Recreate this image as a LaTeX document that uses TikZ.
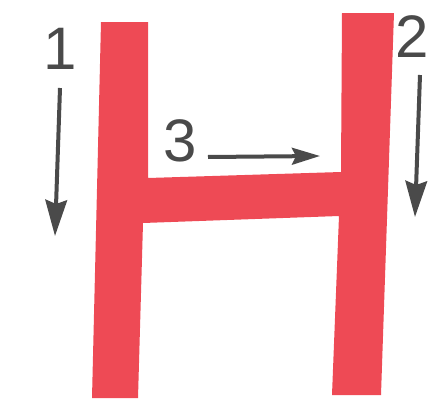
\documentclass[tikz,border=0pt]{standalone}
\usepackage{fontspec}
\setmainfont{Liberation Sans}
\usepackage{tikz}
\usetikzlibrary{arrows.meta, positioning}
\definecolor{hred}{HTML}{EE4A55}
\definecolor{hgray}{HTML}{4A4A4A}

\begin{document}
\begin{tikzpicture}[x=1pt, y=-1pt,
    num/.style={text=hgray, font=\fontsize{60}{60}\selectfont, inner sep=0pt},
    stroke/.style={-{Stealth[length=#1, width=0.6*#1, inset=4pt]}, line width=4pt, draw=hgray},
]
    \useasboundingbox (0,0) rectangle (429,407);
    % the letter
    \fill[hred] (101,22) -- (148,22) -- (148,178) -- (341,172) -- (342,13) -- (394,13)
        -- (381,395) -- (332,395) -- (339,216) -- (143,223) -- (138,398) -- (92,398) -- cycle;

    % stroke order
    \node[num] (n1) at (60,49) {1};
    \node[num] (n2) at (412,37) {2};
    \node[num] (n3) at (180,141) {3};

    \coordinate (s1a) at (60,88);
    \coordinate (s1b) at (55,236);
    \coordinate (s2a) at (420,75);
    \coordinate (s2b) at (415,217);
    \coordinate (s3a) at (208,157);
    \coordinate (s3b) at (320,156);

    \draw[stroke=36pt] (s1a) -- (s1b);
    \draw[stroke=36pt] (s2a) -- (s2b);
    \draw[stroke=28pt] (s3a) -- (s3b);
\end{tikzpicture}
\end{document}
